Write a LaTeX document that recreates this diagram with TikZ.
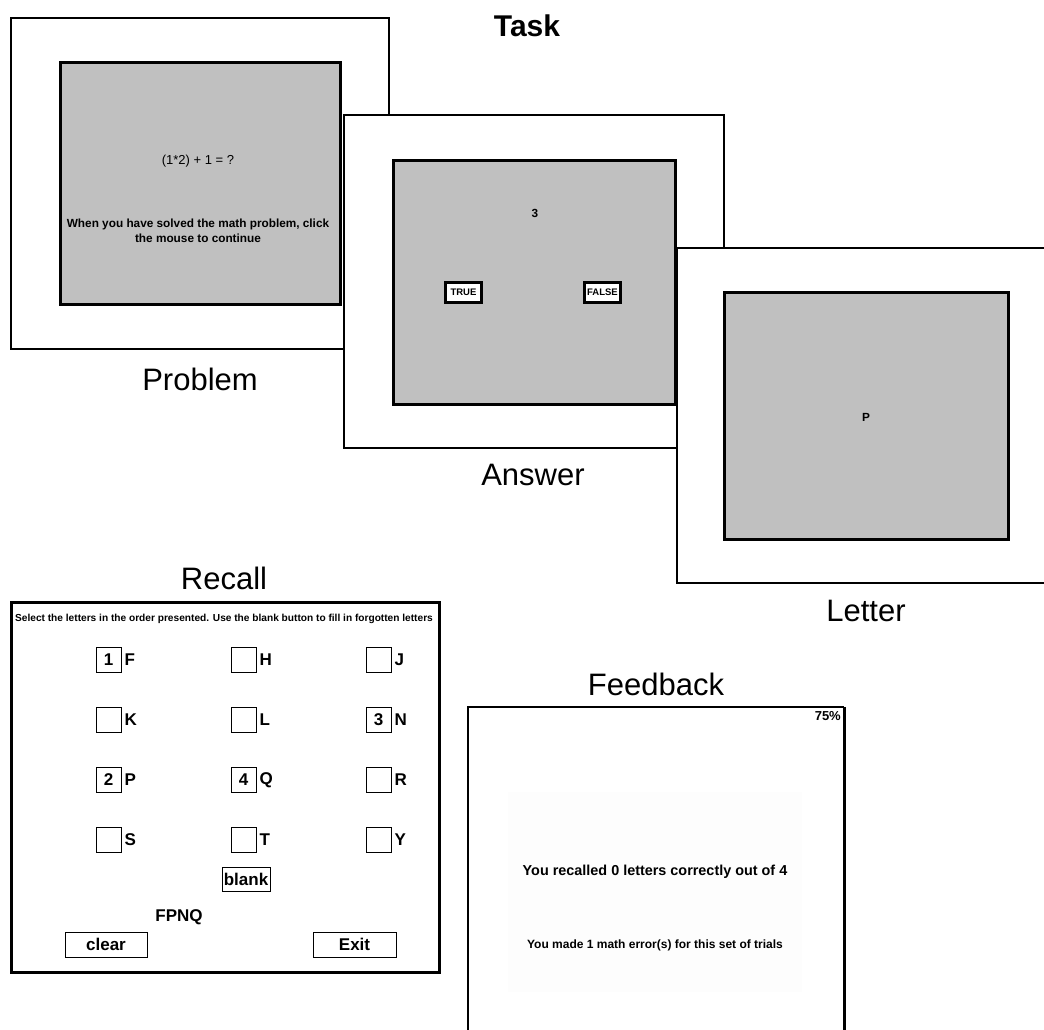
\documentclass[tikz,border=0pt]{standalone}
\usepackage{fontspec}
\setmainfont{Liberation Sans}
\usetikzlibrary{positioning}

\definecolor{screengray}{HTML}{C0C0C0}

\tikzset{
  frame/.style={draw, line width=1.6pt, fill=white, inner sep=0pt},
  screen/.style={draw, line width=3.4pt, fill=screengray, inner sep=0pt},
  tfbutton/.style={draw, line width=2.8pt, fill=white, inner sep=0pt,
    minimum width=36pt, minimum height=20pt,
    font=\bfseries\fontsize{9.5}{10}\selectfont},
  cell/.style={draw, line width=1pt, minimum size=25pt, inner sep=0pt,
    font=\bfseries\fontsize{17}{18}\selectfont},
  cellletter/.style={anchor=west, inner sep=0pt, xshift=3pt,
    font=\bfseries\fontsize{17}{18}\selectfont},
  button/.style={draw, line width=1pt, inner sep=0pt,
    font=\bfseries\fontsize{17}{18}\selectfont},
  caption/.style={anchor=base, inner sep=0pt, font=\fontsize{31}{36}\selectfont},
  smallbold/.style={font=\bfseries\fontsize{11.8}{14.5}\selectfont, align=center}
}

\begin{document}
\begin{tikzpicture}[x=1pt,y=-1pt]
  \useasboundingbox (0,0) rectangle (1044,1030);
  \clip (0,0) rectangle (1044,1030);

  \node[anchor=base, font=\bfseries\fontsize{30}{34}\selectfont] (task) at (527,37) {Task};

  % problem screen
  \node[frame, anchor=north west, minimum width=378pt, minimum height=331pt] (probframe) at (10,17) {};
  \node[screen, anchor=north west, minimum width=280pt, minimum height=242pt] (probscreen) at (59,61) {};
  \node[font=\fontsize{13}{15}\selectfont] (sum) at (198,161) {(1*2) + 1 = ?};
  \node[smallbold] (hint) at (198,231) {When you have solved the math problem, click\\the mouse to continue};
  \node[caption] (problem) at (200,390) {Problem};

  % answer screen
  \node[frame, anchor=north west, minimum width=380pt, minimum height=333pt] (ansframe) at (343,114) {};
  \node[screen, anchor=north west, minimum width=282pt, minimum height=244pt] (ansscreen) at (392,159) {};
  \node[smallbold] (three) at (535,213) {3};
  \node[tfbutton] (true) at (463.5,292.5) {TRUE};
  \node[tfbutton] (false) at (602.5,292.5) {FALSE};
  \node[caption] (answer) at (533,485) {Answer};

  % letter screen
  \node[frame, anchor=north west, minimum width=380pt, minimum height=335pt] (letframe) at (676,247) {};
  \node[screen, anchor=north west, minimum width=284pt, minimum height=247pt] (letscreen) at (723,291) {};
  \node[smallbold] (shown) at (866,417) {P};
  \node[caption] (letter) at (866,621) {Letter};

  % recall screen
  \node[caption] (recall) at (224,589) {Recall};
  \node[draw, line width=2.6pt, anchor=north west, minimum width=428pt, minimum height=370pt] (recframe) at (10,601) {};
  \node[font=\bfseries\fontsize{10.15}{12}\selectfont] (instr) at (224,619)
    {Select the letters in the order presented. Use the blank button to fill in forgotten letters};
  \foreach \l/\n [count=\i from 0] in {F/1,H/{},J/{},K/{},L/{},N/3,P/2,Q/4,R/{},S/{},T/{},Y/{}}{
    \pgfmathtruncatemacro\col{mod(\i,3)}
    \pgfmathtruncatemacro\row{int(\i/3)}
    \node[cell] (box\l) at (108.5+135*\col,660+60*\row) {\n};
    \node[cellletter] (lab\l) at (box\l.east) {\l};
  }
  \node[button, minimum width=48pt, minimum height=24pt] (blank) at (246,879) {blank};
  \node[font=\bfseries\fontsize{17}{18}\selectfont] (typed) at (179,917) {FPNQ};
  \node[button, minimum width=82pt, minimum height=25pt] (clear) at (106,944.5) {clear};
  \node[button, minimum width=83pt, minimum height=25pt] (exit) at (354.5,944.5) {Exit};

  % feedback screen
  \node[caption] (feedback) at (656,695) {Feedback};
  \fill[black!0.8] (508,792) rectangle (802,992);
  \draw[line width=2.2pt] (468,1040) -- (468,707) -- (844,707);
  \draw[line width=3pt] (844,707) -- (844,1040);
  \node[anchor=north east, inner sep=0pt, font=\bfseries\fontsize{13}{15}\selectfont] (score) at (841,711) {75\%};
  \node[font=\bfseries\fontsize{14.4}{16}\selectfont] (recalled) at (655,872) {You recalled 0 letters correctly out of 4};
  \node[font=\bfseries\fontsize{12}{14}\selectfont] (errors) at (655,945) {You made 1 math error(s) for this set of trials};
\end{tikzpicture}
\end{document}
